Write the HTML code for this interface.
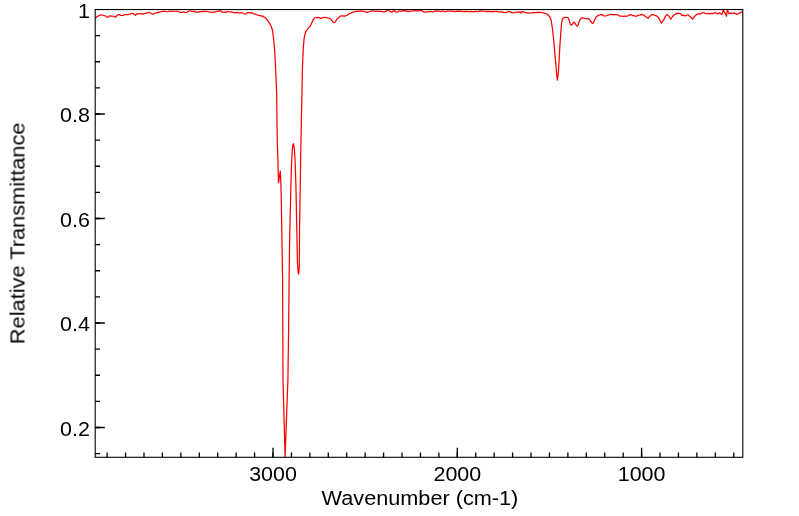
<!DOCTYPE html>
<html><head><meta charset="utf-8"><style>
html,body{margin:0;padding:0;background:#fff;}
svg{display:block;}
.t{filter:grayscale(1);}
svg text{font-family:"Liberation Sans",sans-serif;font-size:19.5px;fill:#000;}
</style></head><body>
<svg width="799" height="516" viewBox="0 0 799 516">
<rect width="799" height="516" fill="#fff"/>
<defs><clipPath id="c"><rect x="95.2" y="9.55" width="647.60" height="447.75"/></clipPath></defs>
<polyline clip-path="url(#c)" points="95.20,18.30 97.00,16.80 98.25,15.98 99.50,15.40 100.75,14.96 102.00,15.00 103.25,15.48 104.50,15.75 105.50,15.83 106.50,16.90 107.50,17.25 108.50,16.82 109.50,15.93 110.50,15.90 111.75,16.08 113.00,16.25 114.12,16.43 115.25,17.25 116.50,15.95 117.75,14.75 118.81,14.56 119.88,14.84 120.94,15.34 122.00,15.50 123.00,15.54 124.00,14.67 125.00,14.75 126.00,14.48 127.00,14.59 128.00,14.64 129.00,14.25 130.00,14.09 131.00,13.54 132.00,13.40 133.00,13.50 134.25,14.71 135.50,15.25 136.50,14.18 137.50,13.75 138.50,13.88 139.50,13.50 140.50,13.54 141.50,13.81 142.50,14.25 143.75,13.56 145.00,13.40 146.00,13.13 147.00,13.17 148.00,12.41 149.00,12.50 150.00,12.81 151.00,13.47 152.00,13.90 153.00,14.25 154.00,13.97 155.00,13.01 156.00,13.00 157.00,12.49 158.00,12.60 159.17,12.14 160.33,11.98 161.50,11.60 162.75,11.45 164.00,11.40 165.00,11.36 166.00,11.72 167.00,11.75 168.00,11.59 169.00,11.23 170.00,11.25 171.25,11.33 172.50,11.00 173.75,11.26 175.00,11.25 176.25,11.07 177.50,11.25 178.50,11.59 179.50,12.13 180.50,12.40 181.75,12.46 183.00,12.00 184.00,12.29 185.00,12.23 186.00,12.50 187.00,12.34 188.00,11.50 189.25,10.98 190.50,11.00 191.67,11.01 192.83,11.37 194.00,11.25 195.00,12.00 196.00,11.82 197.00,12.18 198.00,12.25 199.00,11.74 200.00,11.81 201.00,11.50 202.00,11.62 203.00,11.36 204.00,11.25 205.00,11.58 206.00,11.31 207.00,11.50 208.00,11.76 209.00,11.94 210.00,12.00 211.50,12.40 212.50,12.37 213.50,12.06 214.50,12.05 215.50,11.90 216.50,11.50 217.50,11.37 218.50,11.24 219.50,10.55 220.50,10.75 221.75,12.00 222.67,12.17 223.58,12.18 224.50,12.10 225.40,12.41 226.30,12.20 227.20,11.72 228.10,11.70 229.00,11.75 230.00,11.99 231.00,11.79 232.00,12.25 233.17,12.39 234.33,12.51 235.50,12.90 236.67,12.66 237.83,12.67 239.00,13.00 240.00,13.13 241.00,12.55 242.00,12.75 243.00,12.89 244.00,13.61 245.00,14.00 245.93,14.04 246.85,12.96 247.77,12.68 248.70,12.50 249.77,12.58 250.83,12.92 251.90,12.70 252.83,13.27 253.77,14.00 254.70,14.10 255.80,14.19 256.90,14.79 258.00,15.10 259.35,15.35 260.70,15.80 261.65,16.07 262.60,15.80 263.55,16.82 264.50,17.20 265.65,18.11 266.80,19.50 267.95,20.87 269.10,22.70 270.05,24.16 271.00,26.00 272.40,29.70 273.60,38.60 274.70,51.00 275.50,66.50 276.30,85.00 276.70,95.00 277.00,126.00 277.40,145.00 277.90,160.00 278.50,182.70 280.30,171.00 280.90,185.00 281.30,200.00 282.60,280.00 283.00,380.00 285.10,456.80 287.90,380.00 288.60,330.00 289.10,280.00 289.70,235.00 290.00,225.00 290.90,185.00 291.50,165.00 292.30,149.50 292.80,145.30 293.30,143.70 293.80,145.30 294.40,149.50 295.10,161.00 295.90,185.00 296.40,210.00 296.70,225.00 296.90,235.00 297.20,250.00 297.40,261.00 297.80,268.00 298.10,271.70 298.50,274.00 298.90,272.50 299.10,270.00 299.30,265.00 299.40,255.00 299.50,235.00 299.60,225.00 299.90,210.00 300.00,200.00 300.30,185.00 300.60,160.00 300.90,145.00 301.50,114.00 301.80,100.00 302.10,85.00 302.50,66.50 303.30,47.90 304.10,38.60 305.00,34.00 305.75,31.50 308.00,28.50 309.00,27.31 310.00,26.50 311.50,23.50 313.00,20.00 314.00,18.86 315.00,17.75 316.25,17.64 317.50,17.40 318.67,17.51 319.83,17.88 321.00,18.50 322.00,18.17 323.00,17.58 324.00,17.40 325.25,17.50 326.50,17.50 327.50,18.00 328.50,18.20 329.50,18.25 330.50,19.14 331.50,20.00 332.80,22.00 333.80,22.60 335.00,22.25 336.00,20.71 337.00,19.00 338.25,18.00 339.50,16.75 340.75,15.94 342.00,15.75 343.00,16.03 344.00,15.95 345.00,16.01 346.00,15.75 347.00,15.33 348.00,14.50 349.25,13.80 350.50,13.25 351.50,12.87 352.50,12.03 353.50,12.00 354.50,11.97 355.50,11.32 356.50,11.50 357.50,11.17 358.50,11.22 359.50,11.40 360.67,11.13 361.83,11.18 363.00,11.25 364.00,11.31 365.00,12.00 366.25,11.90 367.50,12.50 368.75,11.76 370.00,11.50 371.00,11.15 372.00,11.15 373.00,10.74 374.00,11.00 375.00,11.34 376.00,11.33 377.00,11.18 378.00,11.50 379.00,11.33 380.00,11.39 381.00,11.50 382.25,11.65 383.50,12.00 384.40,11.57 385.30,11.64 386.20,11.20 387.10,10.39 388.00,10.25 389.17,10.74 390.33,11.46 391.50,12.25 392.42,11.63 393.33,11.13 394.25,10.90 395.17,11.07 396.08,12.14 397.00,12.25 398.00,11.70 399.00,10.98 400.00,11.00 401.17,11.29 402.33,10.94 403.50,10.90 404.40,10.70 405.30,11.10 406.20,10.90 407.10,11.37 408.00,11.40 409.00,11.68 410.00,11.45 411.00,11.20 412.00,11.00 413.00,10.80 414.00,10.78 415.00,10.55 416.00,10.75 417.00,10.93 418.00,10.72 419.00,10.85 420.00,10.50 421.00,10.60 422.00,10.61 423.00,11.52 424.00,12.13 425.00,12.00 426.00,12.17 427.00,11.96 428.00,11.80 429.00,11.50 430.00,11.71 431.00,11.46 432.00,11.77 433.00,11.80 434.00,11.61 435.00,11.17 436.00,10.96 437.00,11.20 438.00,11.05 439.00,11.03 440.00,11.33 441.00,11.52 442.00,11.20 443.00,11.16 444.00,11.51 445.00,11.54 446.00,11.52 447.00,11.20 448.00,11.11 449.00,11.03 450.00,11.06 451.00,11.06 452.00,11.09 453.00,11.30 454.00,11.38 455.00,11.56 456.00,11.49 457.00,11.21 458.00,11.31 459.00,11.20 460.00,11.42 461.00,10.96 462.00,11.41 463.00,11.64 464.00,11.58 465.00,11.40 466.00,11.60 467.00,11.48 468.00,11.35 469.00,11.60 470.00,11.79 471.00,11.43 472.00,11.73 473.00,11.50 474.00,11.83 475.00,11.41 476.00,11.39 477.00,11.75 478.00,11.58 479.00,11.17 480.00,11.40 481.50,10.80 483.00,11.50 484.00,11.23 485.00,11.24 486.00,11.74 487.00,11.65 488.00,11.17 489.00,11.63 490.00,11.40 491.00,11.75 492.00,11.54 493.00,11.36 494.00,11.52 495.00,11.50 496.00,11.27 497.00,11.25 498.00,11.99 499.00,11.83 500.00,11.75 501.00,11.82 502.00,12.24 503.00,12.08 504.00,12.57 505.00,12.68 506.00,12.50 507.17,12.05 508.33,11.58 509.50,11.50 510.75,12.11 512.00,13.00 513.00,12.71 514.00,12.69 515.00,12.19 516.00,12.25 517.00,12.16 518.00,11.87 519.00,12.32 520.00,12.00 521.00,13.00 522.00,11.50 523.00,11.65 524.00,12.22 525.00,12.50 526.00,12.61 527.00,12.96 528.00,12.77 529.00,13.24 530.00,13.00 531.00,12.98 532.00,12.94 533.00,12.85 534.00,12.44 535.00,12.75 536.00,12.67 537.00,12.41 538.00,12.17 539.00,12.64 540.00,12.40 541.03,12.27 542.07,12.68 543.10,12.80 544.08,13.13 545.05,13.44 546.02,13.70 547.00,14.00 548.30,15.31 549.60,16.60 551.20,20.50 552.40,28.30 553.60,39.10 554.70,51.50 555.80,63.90 556.70,74.80 557.40,80.20 558.30,73.20 559.10,60.80 559.80,46.90 560.80,32.90 561.60,22.80 562.50,18.80 563.80,17.60 565.50,17.25 567.00,17.30 568.20,17.90 569.20,20.50 570.30,24.20 571.30,25.20 572.30,24.50 573.50,22.40 574.40,22.60 575.50,24.00 576.50,25.80 577.30,26.20 578.20,24.80 579.20,21.50 580.30,19.30 581.50,18.20 582.50,17.70 583.50,18.00 585.00,18.50 586.00,18.54 587.00,18.70 588.00,18.50 589.20,19.30 590.30,20.60 591.50,22.40 592.50,23.50 593.30,23.00 594.20,21.00 595.20,18.50 596.20,16.90 598.00,15.60 599.00,15.05 600.00,14.82 601.00,14.50 602.00,14.54 603.00,15.09 604.00,15.97 605.00,16.00 606.00,15.86 607.00,15.52 608.00,15.20 609.00,14.93 610.00,14.50 611.00,14.46 612.00,14.58 613.00,14.50 614.00,14.51 615.00,14.63 616.00,14.50 617.00,14.61 618.00,15.04 619.00,15.47 620.00,16.17 621.00,16.00 622.00,16.16 623.00,16.33 624.00,16.44 625.00,16.01 626.00,16.20 626.90,16.11 627.80,16.03 628.70,15.52 629.60,14.68 630.50,14.80 631.75,14.94 633.00,15.60 634.00,15.78 635.00,15.98 636.00,16.50 637.00,16.01 638.00,15.26 639.00,15.25 640.25,14.94 641.50,14.40 642.75,14.90 644.00,15.00 645.00,16.28 646.00,17.00 647.00,17.38 648.00,18.25 649.00,17.15 650.00,15.75 651.00,15.55 652.00,14.56 653.00,14.50 654.00,15.02 655.00,15.58 656.00,15.50 657.25,16.43 658.50,17.75 660.00,20.50 661.50,23.25 663.00,21.00 664.00,19.32 665.00,17.00 666.00,15.68 667.00,14.50 668.00,15.37 669.00,16.25 670.75,19.25 672.50,16.50 674.00,15.00 675.15,14.54 676.30,13.40 677.32,13.65 678.35,13.21 679.38,13.44 680.40,13.50 681.90,15.60 683.20,15.00 685.00,16.00 685.97,15.71 686.93,14.99 687.90,14.80 688.95,15.59 690.00,16.80 691.30,17.77 692.60,19.00 693.80,17.61 695.00,15.90 696.07,15.01 697.13,14.29 698.20,13.70 699.90,14.10 700.93,13.73 701.97,12.79 703.00,12.80 704.10,12.81 705.20,13.34 706.30,13.58 707.40,13.70 708.50,13.35 709.60,13.89 710.70,13.65 711.80,13.40 712.88,13.69 713.95,12.97 715.02,12.98 716.10,13.10 717.05,13.23 718.00,14.00 719.60,12.60 720.70,13.80 721.80,14.60 723.30,10.30 724.90,12.80 726.50,16.20 727.40,9.50 728.70,13.40 729.73,13.26 730.77,13.22 731.80,13.50 733.05,13.10 734.30,12.80 735.55,13.84 736.80,14.30 738.05,13.92 739.30,13.10 740.40,12.68 741.50,12.10 742.60,12.10 744.00,12.00" fill="none" stroke="#ff0000" stroke-width="1.25" stroke-linejoin="round" stroke-linecap="butt"/>
<path d="M733.75 457.30V452.50M715.32 457.30V452.50M696.89 457.30V452.50M678.46 457.30V452.50M660.03 457.30V452.50M641.60 457.30V447.80M623.17 457.30V452.50M604.74 457.30V452.50M586.31 457.30V452.50M567.88 457.30V452.50M549.45 457.30V452.50M531.02 457.30V452.50M512.59 457.30V452.50M494.16 457.30V452.50M475.73 457.30V452.50M457.30 457.30V447.80M438.87 457.30V452.50M420.44 457.30V452.50M402.01 457.30V452.50M383.58 457.30V452.50M365.15 457.30V452.50M346.72 457.30V452.50M328.29 457.30V452.50M309.86 457.30V452.50M291.43 457.30V452.50M273.00 457.30V447.80M254.57 457.30V452.50M236.14 457.30V452.50M217.71 457.30V452.50M199.28 457.30V452.50M180.85 457.30V452.50M162.42 457.30V452.50M143.99 457.30V452.50M125.56 457.30V452.50M107.13 457.30V452.50M95.20 453.62H100.00M95.20 427.50H104.80M95.20 401.38H100.00M95.20 375.25H100.00M95.20 349.12H100.00M95.20 323.00H104.80M95.20 296.88H100.00M95.20 270.75H100.00M95.20 244.62H100.00M95.20 218.50H104.80M95.20 192.38H100.00M95.20 166.25H100.00M95.20 140.12H100.00M95.20 114.00H104.80M95.20 87.88H100.00M95.20 61.75H100.00M95.20 35.63H100.00" stroke="#000" stroke-width="1.3" fill="none"/>
<path d="M641.60 457.30V452.50M457.30 457.30V452.50M273.00 457.30V452.50M95.20 427.50H100.00M95.20 323.00H100.00M95.20 218.50H100.00M95.20 114.00H100.00" stroke="#000" stroke-width="1.3" fill="none"/>
<rect x="95.2" y="9.55" width="647.60" height="447.75" fill="none" stroke="#000" stroke-width="1.1"/>
<g class="t">
<text x="0" y="0" text-anchor="middle" transform="translate(273.00 481) scale(1.1 1)">3000</text><text x="0" y="0" text-anchor="middle" transform="translate(457.30 481) scale(1.1 1)">2000</text><text x="0" y="0" text-anchor="middle" transform="translate(641.60 481) scale(1.1 1)">1000</text>
<text x="0" y="0" text-anchor="end" transform="translate(89.9 17.70) scale(1.1 1)">1</text><text x="0" y="0" text-anchor="end" transform="translate(89.9 122.20) scale(1.1 1)">0.8</text><text x="0" y="0" text-anchor="end" transform="translate(89.9 226.70) scale(1.1 1)">0.6</text><text x="0" y="0" text-anchor="end" transform="translate(89.9 331.20) scale(1.1 1)">0.4</text><text x="0" y="0" text-anchor="end" transform="translate(89.9 435.70) scale(1.1 1)">0.2</text>
<text x="0" y="0" text-anchor="middle" transform="translate(419.95 505.0) scale(1.1123 1)">Wavenumber (cm-1)</text>
<text x="0" y="0" text-anchor="middle" transform="translate(24.5 233.3) rotate(-90) scale(1.118 1)">Relative Transmittance</text>
</g>
</svg>
</body></html>
